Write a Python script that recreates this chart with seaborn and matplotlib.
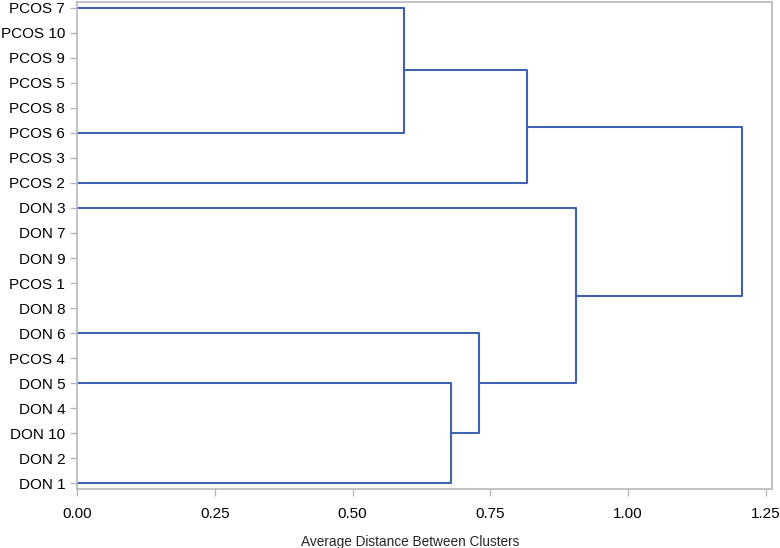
"""
Average-linkage dendrogram of PCOS / DON samples.
"""
import matplotlib
matplotlib.use("Agg")
import matplotlib.pyplot as plt
import numpy as np
import pandas as pd
import seaborn as sns

# leaf order, top to bottom
leaf_labels = ["PCOS 7", "PCOS 10", "PCOS 9", "PCOS 5", "PCOS 8", "PCOS 6",
               "PCOS 3", "PCOS 2", "DON 3", "DON 7", "DON 9", "PCOS 1",
               "DON 8", "DON 6", "PCOS 4", "DON 5", "DON 4", "DON 10",
               "DON 2", "DON 1"]

# merges: node name, left child, right child, distance
merge_names = ["A", "B", "C", "D", "E", "F"]
merge_left = ["PCOS 7", "A", "DON 5", "DON 6", "DON 3", "B"]
merge_right = ["PCOS 6", "PCOS 2", "DON 1", "C", "D", "E"]
merge_height = [0.593, 0.816, 0.678, 0.729, 0.905, 1.207]

x_ticks = [0.00, 0.25, 0.50, 0.75, 1.00, 1.25]

LINE_COLOR = "#4062b0"
FRAME_COLOR = "#b8b8b8"

# node positions: leaves sit at their row with height 0
pos = {name: (0.0, float(i)) for i, name in enumerate(leaf_labels)}
rows = []
for seg, (name, a, b, h) in enumerate(zip(merge_names, merge_left, merge_right, merge_height)):
    ha, ya = pos[a]
    hb, yb = pos[b]
    for x, y in [(ha, ya), (h, ya), (h, yb), (hb, yb)]:
        rows.append({"seg": seg, "x": x, "y": y})
    pos[name] = (h, (ya + yb) / 2)
segments = pd.DataFrame(rows)

sns.set_style("white")
plt.rcParams["font.family"] = ["Liberation Sans", "DejaVu Sans"]

fig = plt.figure(figsize=(7.8, 5.48), dpi=100)
ax = fig.add_axes([77 / 780, 1 - 489 / 548, 695 / 780, 487 / 548])

sns.lineplot(data=segments, x="x", y="y", units="seg", estimator=None,
             sort=False, color=LINE_COLOR, linewidth=1.5, ax=ax, legend=False)

ax.set_xlim(0, 1.261)
ax.set_ylim(len(leaf_labels) - 1 + 0.22, -0.22)
ax.set_yticks(np.arange(len(leaf_labels)))
ax.set_yticklabels(leaf_labels)
ax.set_xticks(x_ticks)
ax.set_xticklabels([f"{t:.2f}" for t in x_ticks])
ax.set_ylabel("")
ax.set_xlabel("Average Distance Between Clusters", fontsize=9.8)
ax.xaxis.set_label_coords(0.48, -0.095)

ax.tick_params(axis="both", which="major", direction="out", length=5,
               width=1, color=FRAME_COLOR, labelsize=11, labelcolor="black",
               left=True, bottom=True)
ax.tick_params(axis="y", pad=3.5)
ax.tick_params(axis="x", pad=8)
for side in ["top", "bottom", "left", "right"]:
    ax.spines[side].set_visible(True)
    ax.spines[side].set_color(FRAME_COLOR)
    ax.spines[side].set_linewidth(1.2)

fig.savefig("out.png", dpi=100)
